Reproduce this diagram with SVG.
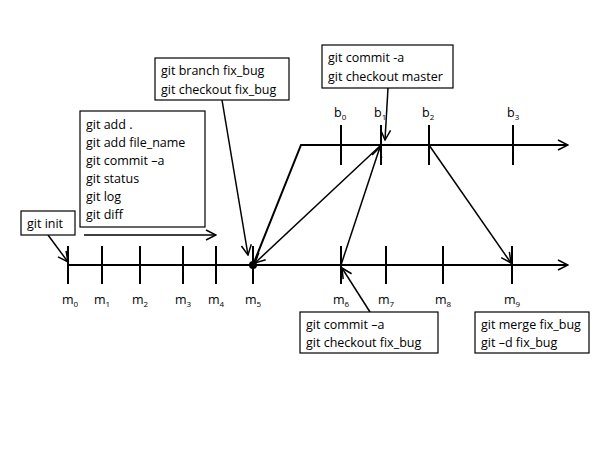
<svg xmlns="http://www.w3.org/2000/svg" width="600" height="450" viewBox="0 0 600 450">
<defs>
<marker id="ah" viewBox="0 0 12 12" refX="11" refY="6" markerWidth="12" markerHeight="12" markerUnits="userSpaceOnUse" orient="auto"><path d="M1,1 L11,6 L1,11" fill="none" stroke="#000" stroke-width="1.5"/></marker>
<style>
text{font-family:"Open Sans","Liberation Sans",sans-serif;font-size:12.5px;fill:#000}
.sub{font-size:8px}
.box{fill:#fff;stroke:#000;stroke-width:1.2}
.ln{stroke:#000;stroke-width:2;fill:none}
.ar{stroke:#000;stroke-width:1.5;fill:none;marker-end:url(#ah)}
</style>
</defs>
<rect width="600" height="450" fill="#fff"/>
<g id="connectors">
<line class="ln" x1="68" y1="265" x2="568" y2="265" style="marker-end:url(#ah)"/>
<path class="ln" d="M253,265 L301,145 L568,145" style="marker-end:url(#ah)"/>
<g class="ln">
<line x1="68" y1="246" x2="68" y2="284"/><line x1="102" y1="246" x2="102" y2="284"/><line x1="140" y1="246" x2="140" y2="284"/><line x1="183" y1="246" x2="183" y2="284"/><line x1="216" y1="246" x2="216" y2="284"/><line x1="253" y1="246" x2="253" y2="284"/><line x1="341" y1="246" x2="341" y2="284"/><line x1="386" y1="246" x2="386" y2="284"/><line x1="443" y1="246" x2="443" y2="284"/><line x1="512" y1="246" x2="512" y2="284"/>
<line x1="341" y1="125" x2="341" y2="165"/><line x1="381" y1="125" x2="381" y2="165"/><line x1="429" y1="125" x2="429" y2="165"/><line x1="513" y1="125" x2="513" y2="165"/>
</g>
<circle cx="253" cy="265" r="4" fill="#000"/>
<line class="ar" x1="381" y1="145" x2="255" y2="263"/>
<line class="ar" x1="341" y1="265" x2="380" y2="147"/>
<line class="ar" x1="429" y1="145" x2="511" y2="263"/>
<line class="ar" x1="388" y1="88" x2="385" y2="140"/>
<line class="ar" x1="222" y1="100" x2="248" y2="255"/>
<line class="ar" x1="48" y1="235" x2="68" y2="262"/>
<line class="ar" x1="84" y1="235" x2="216" y2="235"/>
<line class="ar" x1="370" y1="312" x2="342" y2="268"/>
</g>
<g id="labels">
<text x="62" y="304">m<tspan class="sub" dy="3">0</tspan></text>
<text x="94" y="304">m<tspan class="sub" dy="3">1</tspan></text>
<text x="132" y="304">m<tspan class="sub" dy="3">2</tspan></text>
<text x="175" y="304">m<tspan class="sub" dy="3">3</tspan></text>
<text x="208" y="304">m<tspan class="sub" dy="3">4</tspan></text>
<text x="245" y="304">m<tspan class="sub" dy="3">5</tspan></text>
<text x="333" y="304">m<tspan class="sub" dy="3">6</tspan></text>
<text x="378" y="304">m<tspan class="sub" dy="3">7</tspan></text>
<text x="435" y="304">m<tspan class="sub" dy="3">8</tspan></text>
<text x="504" y="304">m<tspan class="sub" dy="3">9</tspan></text>
<text x="334" y="117">b<tspan class="sub" dy="3">0</tspan></text>
<text x="374" y="117">b<tspan class="sub" dy="3">1</tspan></text>
<text x="422" y="117">b<tspan class="sub" dy="3">2</tspan></text>
<text x="507" y="117">b<tspan class="sub" dy="3">3</tspan></text>
</g>
<g id="box-init"><rect class="box" x="21" y="211" width="54" height="24"/><text x="27" y="228">git init</text></g>
<g id="box-add"><rect class="box" x="80" y="111" width="125" height="116"/>
<text x="86" y="129">git add .</text><text x="86" y="147">git add file_name</text><text x="86" y="165">git commit –a</text><text x="86" y="183">git status</text><text x="86" y="201">git log</text><text x="86" y="219">git diff</text></g>
<g id="box-branch"><rect class="box" x="155" y="58" width="134" height="42"/><text x="161" y="75">git branch fix_bug</text><text x="161" y="94">git checkout fix_bug</text></g>
<g id="box-commit-master"><rect class="box" x="322" y="45" width="131" height="43"/><text x="328" y="62">git commit -a</text><text x="328" y="81">git checkout master</text></g>
<g id="box-commit-fix"><rect class="box" x="300" y="312" width="138" height="41"/><text x="306" y="329">git commit –a</text><text x="306" y="347">git checkout fix_bug</text></g>
<g id="box-merge"><rect class="box" x="475" y="312" width="114" height="41"/><text x="481" y="329">git merge fix_bug</text><text x="481" y="347">git –d fix_bug</text></g>
</svg>
